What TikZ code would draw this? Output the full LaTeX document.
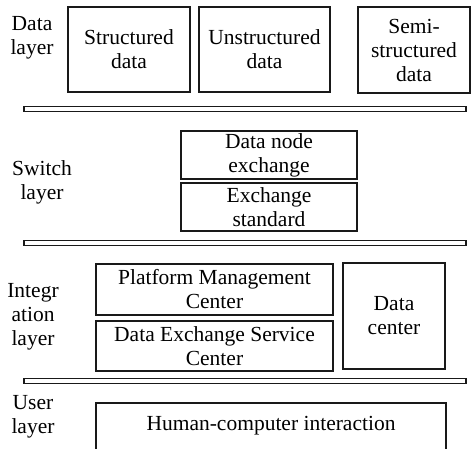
\documentclass[tikz,border=0pt]{standalone}
\usepackage{fontspec}
\setmainfont{Liberation Serif}
\begin{document}
\begin{tikzpicture}[x=1pt,y=-1pt,
  box/.style={draw=black!90, line width=1.9pt, inner sep=0pt, align=center,
    font=\fontsize{21.5}{24}\selectfont},
  bar/.style={draw=black!90, line width=1.7pt, inner sep=0pt, minimum width=442pt, minimum height=5.2pt},
  lbl/.style={inner sep=0pt, align=center, font=\fontsize{21.5}{24}\selectfont}]
\useasboundingbox (0,0) rectangle (471,448);
% Data layer
\node[lbl] (ldata) at (32,38) {Data\\layer};
\node[box, minimum width=122pt, minimum height=85pt] (sd) at (129,49.5) {Structured\\data};
\node[box, minimum width=131pt, minimum height=85pt] (ud) at (264.5,49.5) {Unstructured\\data};
\node[box, minimum width=112pt, minimum height=86pt] (ssd) at (414,50) {Semi-\\structured\\data};
\node[bar] (bar1) at (245,109) {};
% Switch layer
\node[lbl] (lswitch) at (42,182) {Switch\\layer};
\node[box, minimum width=176pt, minimum height=48pt] (dne) at (269,155) {Data node\\exchange};
\node[box, minimum width=176pt, minimum height=48pt] (es) at (269,207) {Exchange\\standard};
\node[bar] (bar2) at (245,243) {};
% Integration layer
\node[lbl] (lint) at (33,317) {Integr\\ation\\layer};
\node[box, minimum width=237pt, minimum height=51pt] (pmc) at (214.5,289.5) {Platform Management\\Center};
\node[box, minimum width=237pt, minimum height=50pt] (desc) at (214.5,346) {Data Exchange Service\\Center};
\node[box, minimum width=102pt, minimum height=106pt] (dc) at (394,316) {Data\\center};
\node[bar] (bar3) at (245,381) {};
% User layer
\node[lbl] (luser) at (33,417) {User\\layer};
\node[box, minimum width=350pt, minimum height=60pt, anchor=north] (hci) at (271,402) {};
\node[lbl] (hcit) at (271,426) {Human-computer interaction};
\end{tikzpicture}
\end{document}
